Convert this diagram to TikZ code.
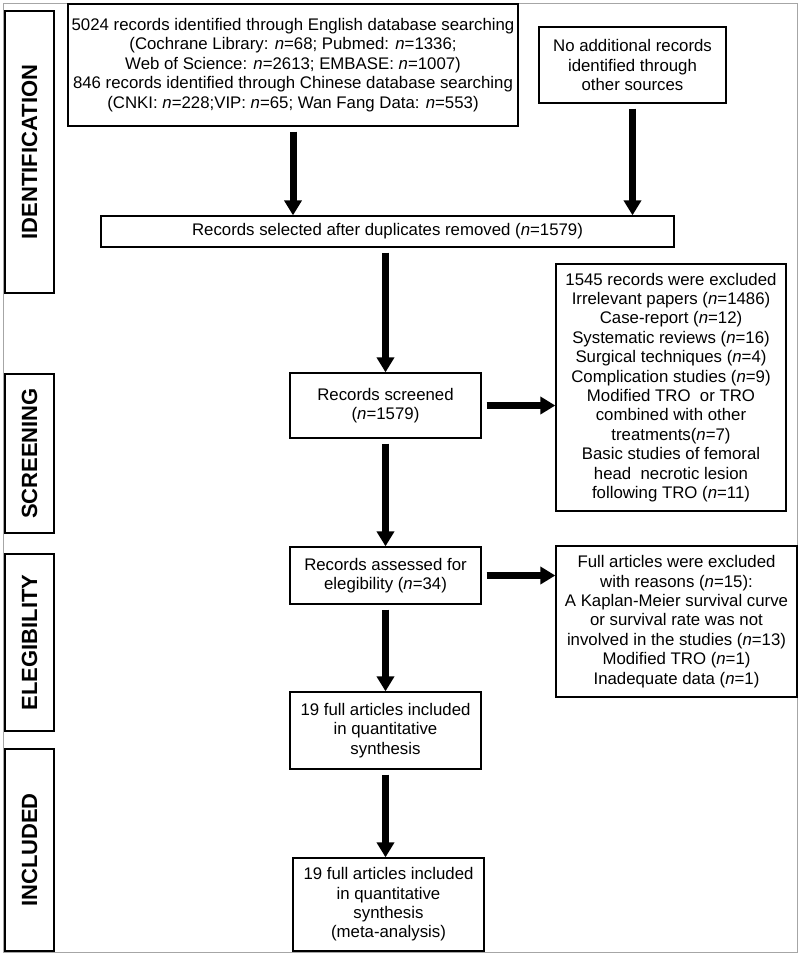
\documentclass[tikz,border=0pt]{standalone}
\usepackage{fontspec}
\setmainfont{Liberation Sans}
\usetikzlibrary{arrows.meta}

\begin{document}
\begin{tikzpicture}[x=1pt,y=-1pt]

      \useasboundingbox (0,0) rectangle (800,956);
      \draw[gray!70, line width=1pt] (3,3) rectangle (797,952);

      % phase labels on the left
      \begin{scope}[every node/.style={draw, line width=1.3pt, rotate=90, minimum height=49pt,
          inner sep=0pt, font=\fontsize{22}{26}\selectfont\bfseries}]
        \node[minimum width=282pt] (idf)  at (29.5,152)   {IDENTIFICATION};
        \node[minimum width=159pt] (scr)  at (29.5,453.5) {SCREENING};
        \node[minimum width=177pt] (elg)  at (29.5,642.5) {ELEGIBILITY};
        \node[minimum width=202pt] (inc)  at (29.5,850)   {INCLUDED};
      \end{scope}

      \begin{scope}[every node/.style={draw, line width=1.3pt, align=center, inner sep=0pt,
          font=\fontsize{16.8}{19.4}\selectfont}]
        \node[minimum width=450pt, minimum height=122pt] (db) at (293,65)
          {5024 records identified through English database searching\\
           (Cochrane Library: \textit{n}=68; Pubmed: \textit{n}=1336;\\
           Web of Science: \textit{n}=2613; EMBASE: \textit{n}=1007)\\
           846 records identified through Chinese database searching\\
           (CNKI: \textit{n}=228;VIP: \textit{n}=65; Wan Fang Data: \textit{n}=553)};
        \node[minimum width=187pt, minimum height=76pt] (other) at (632.5,65)
          {No additional records\\ identified through\\ other sources};
        \node[minimum width=573pt, minimum height=31pt] (dup) at (387.5,231.5)
          {Records selected after duplicates removed (\textit{n}=1579)};
        \node[minimum width=191pt, minimum height=65pt] (screened) at (385.5,405.5)
          {Records screened\\ (\textit{n}=1579)};
        \node[minimum width=230pt, minimum height=247pt] (excl1) at (671,387.5)
          {1545 records were excluded\\
           Irrelevant papers (\textit{n}=1486)\\
           Case-report (\textit{n}=12)\\
           Systematic reviews (\textit{n}=16)\\
           Surgical techniques (\textit{n}=4)\\
           Complication studies (\textit{n}=9)\\
           Modified TRO~ or TRO\\
           combined with other\\
           treatments(\textit{n}=7)\\
           Basic studies of femoral\\
           head~ necrotic lesion\\
           following TRO (\textit{n}=11)};
        \node[minimum width=191pt, minimum height=57pt] (assessed) at (385.5,575.5)
          {Records assessed for\\ elegibility (\textit{n}=34)};
        \node[minimum width=241pt, minimum height=151pt] (excl2) at (676.5,621.5)
          {Full articles were excluded\\
           with reasons (\textit{n}=15):\\
           A Kaplan-Meier survival curve\\
           or survival rate was not\\
           involved in the studies (\textit{n}=13)\\
           Modified TRO (\textit{n}=1)\\
           Inadequate data (\textit{n}=1)};
        \node[minimum width=191pt, minimum height=77pt] (quant) at (385.5,730.5)
          {19 full articles included\\ in quantitative\\ synthesis};
        \node[minimum width=191pt, minimum height=93pt] (meta) at (388.5,904.5)
          {19 full articles included\\ in quantitative\\ synthesis\\ (meta-analysis)};
      \end{scope}

      \begin{scope}[every edge/.style={draw, line width=7pt, shorten <=5pt,
          -{Triangle[width=17pt,length=15pt]}}]
        \path (db.south)       edge (db.south |- dup.north);
        \path (other.south)    edge (other.south |- dup.north);
        \path (dup.south -| screened.north) edge (screened.north);
        \path (screened.south) edge (assessed.north);
        \path (assessed.south) edge (quant.north);
        \path (quant.south)    edge (quant.south |- meta.north);
        \path (screened.east)  edge (screened.east -| excl1.west);
        \path (assessed.east)  edge (assessed.east -| excl2.west);
      \end{scope}

    \end{tikzpicture}
\end{document}
